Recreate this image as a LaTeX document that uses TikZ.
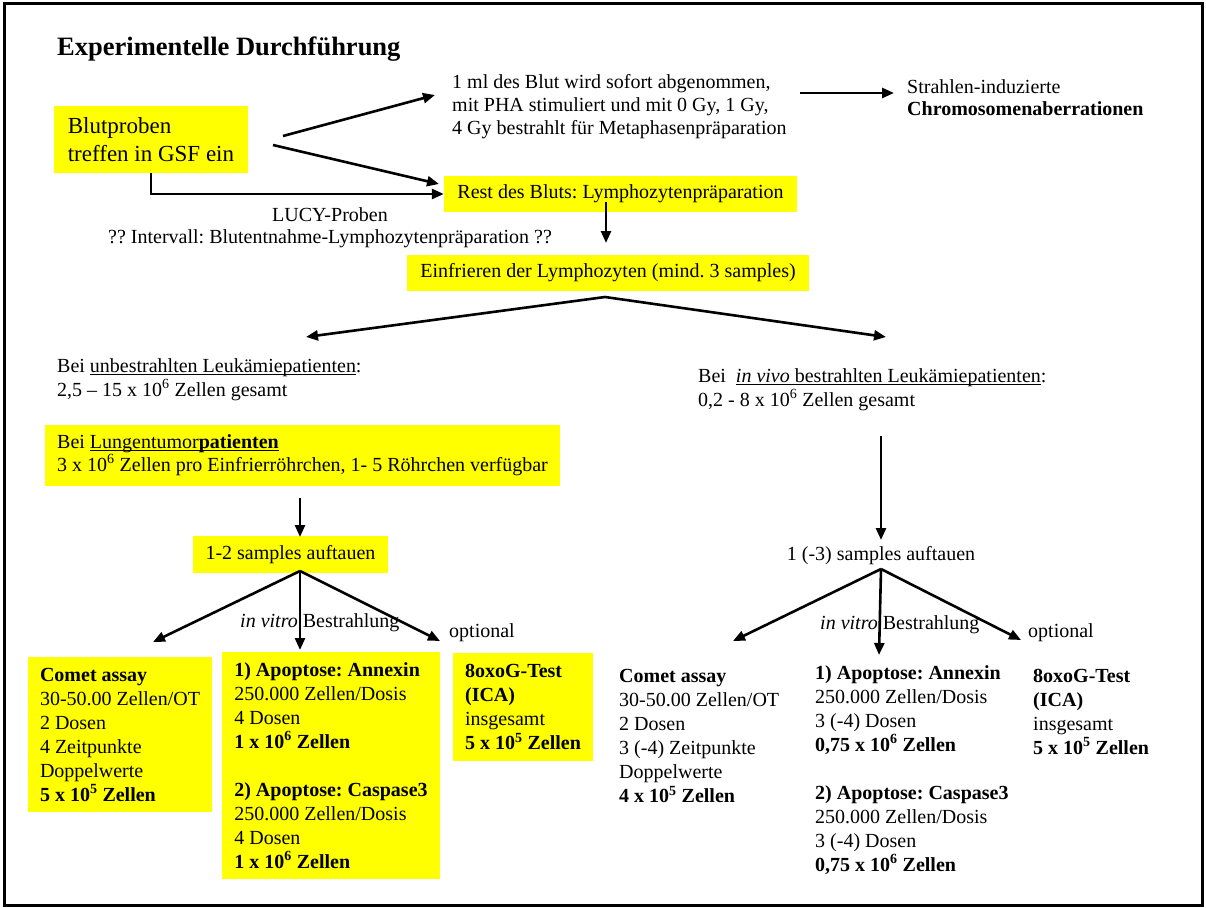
\documentclass[tikz,border=0pt]{standalone}
\usepackage{fontspec}
\setmainfont{Liberation Serif}
\usetikzlibrary{arrows.meta}
\definecolor{hiyellow}{RGB}{255,255,0}
\newcommand\ulbase[1]{\underline{\smash{#1}}}
\frenchspacing

\begin{document}
\begin{tikzpicture}[
                    x = 1pt, y = -1pt,
                    > = {Triangle[length=12pt,width=10pt]},
          arr/.style = {->, line width=2.6pt, line join=miter},
         ybox/.style = {fill=hiyellow, inner sep=0pt, align=left},
          txt/.style = {anchor=west, align=left, inner sep=0pt},
    every node/.style = {font=\fontsize{20}{24}\selectfont},
                    ]
\useasboundingbox (0,0) rectangle (1206,907);
\draw[line width=3pt] (4,4) rectangle (1202,905);

% top part
\node[txt, font=\fontsize{26.5}{30}\selectfont\bfseries] (title) at (57,49) {Experimentelle Durchführung};
\node[ybox, minimum width=194pt, minimum height=67pt, font=\fontsize{23}{28}\selectfont] (blut) at (151,139.5)
    {Blutproben\\treffen in GSF ein};
\node[txt, font=\fontsize{20}{23}\selectfont] (mlblut) at (452,107)
    {1 ml des Blut wird sofort abgenommen,\\mit PHA stimuliert und mit 0 Gy, 1 Gy,\\4 Gy bestrahlt für Metaphasenpräparation};
\node[txt, font=\fontsize{20}{22}\selectfont] (chrom) at (907,98)
    {Strahlen-induzierte\\\textbf{Chromosomenaberrationen}};
\node[ybox, minimum width=353pt, minimum height=36pt] (rest) at (620.5,194) {Rest des Bluts: Lymphozytenpräparation};
\node (lucy) at (330,215) {LUCY-Proben};
\node[txt] (intervall) at (108,239) {?? Intervall: Blutentnahme-Lymphozytenpräparation ??};
\node[ybox, minimum width=402pt, minimum height=36pt] (einf) at (608,273) {Einfrieren der Lymphozyten (mind. 3 samples)};

% left branch
\node[txt] (unbestr) at (57,380)
    {Bei \ulbase{unbestrahlten Leukämiepatienten}:\\2,5 -- 15 x 10\textsuperscript{6} Zellen gesamt};
\node[ybox, minimum width=515pt, minimum height=61pt, font=\fontsize{20}{22.5}\selectfont] (lung) at (302.5,455.5)
    {Bei \ulbase{Lungentumor\textbf{patienten}}\\3 x 10\textsuperscript{6} Zellen pro Einfrierröhrchen, 1- 5 Röhrchen verfügbar};
\node[ybox, minimum width=195pt, minimum height=37pt] (thawL) at (290.5,554.5) {1-2 samples auftauen};
\node[txt] (vitroL) at (240,623) {\textit{in vitro} Bestrahlung};
\node[txt] (optL) at (449,633) {optional};
\node[ybox, minimum width=184pt, minimum height=155pt] (cometL) at (120,734.5)
    {\textbf{Comet assay}\\30-50.00 Zellen/OT\\2 Dosen\\4 Zeitpunkte\\Doppelwerte\\\textbf{5 x 10\textsuperscript{5} Zellen}};
\node[ybox, minimum width=218pt, minimum height=227pt] (apoL) at (331,765.5)
    {\textbf{1) Apoptose: Annexin}\\250.000 Zellen/Dosis\\4 Dosen\\\textbf{1 x 10\textsuperscript{6} Zellen}\\[24pt]
     \textbf{2) Apoptose: Caspase3}\\250.000 Zellen/Dosis\\4 Dosen\\\textbf{1 x 10\textsuperscript{6} Zellen}};
\node[ybox, minimum width=140pt, minimum height=108pt] (oxoL) at (523,707)
    {\textbf{8oxoG-Test}\\\textbf{(ICA)}\\insgesamt\\\textbf{5 x 10\textsuperscript{5} Zellen}};

% right branch
\node[txt] (invivo) at (698,390)
    {Bei \ \ulbase{\textit{in vivo} bestrahlten Leukämiepatienten}:\\0,2 - 8 x 10\textsuperscript{6} Zellen gesamt};
\node (thawR) at (881,556) {1 (-3) samples auftauen};
\node[txt] (vitroR) at (820,625) {\textit{in vitro} Bestrahlung};
\node[txt] (optR) at (1028,633) {optional};
\node[txt] (cometR) at (619,736)
    {\textbf{Comet assay}\\30-50.00 Zellen/OT\\2 Dosen\\3 (-4) Zeitpunkte\\Doppelwerte\\\textbf{4 x 10\textsuperscript{5} Zellen}};
\node[txt] (apoR) at (815,770)
    {\textbf{1) Apoptose: Annexin}\\250.000 Zellen/Dosis\\3 (-4) Dosen\\\textbf{0,75 x 10\textsuperscript{6} Zellen}\\[24pt]
     \textbf{2) Apoptose: Caspase3}\\250.000 Zellen/Dosis\\3 (-4) Dosen\\\textbf{0,75 x 10\textsuperscript{6} Zellen}};
\node[txt] (oxoR) at (1033,711.5)
    {\textbf{8oxoG-Test}\\\textbf{(ICA)}\\insgesamt\\\textbf{5 x 10\textsuperscript{5} Zellen}};

% arrow ends
\coordinate (blutUp) at (283,136);   \coordinate (mlTip) at (435,95);
\coordinate (blutDn) at (273,145);   \coordinate (restTip) at (439,184);
\coordinate (mlOut) at (800,93);     \coordinate (chromTip) at (894,93);
\coordinate (restOut) at (606,202);  \coordinate (einfTip) at (606,243);
\coordinate (einfOut) at (605,297);
\coordinate (unbTip) at (306,337);   \coordinate (vivoTip) at (886,337);
\coordinate (lungOut) at (300,498);  \coordinate (thawLTip) at (300,537);
\coordinate (thawLOut) at (300,571);
\coordinate (vivoOut) at (881,436);  \coordinate (thawRTip) at (881,540);
\coordinate (thawROut) at (881,569);

\draw[arr] (blutUp) -- (mlTip);
\draw[arr] (blutDn) -- (restTip);
\draw[arr] (blut.south) |- (rest.west);
\draw[arr] (mlOut) -- (chromTip);
\draw[arr] (restOut) -- (einfTip);
\draw[arr, <->] (unbTip) -- (einfOut) -- (vivoTip);
\draw[arr] (lungOut) -- (thawLTip);
\draw[arr] (vivoOut) -- (thawRTip);
\foreach \tip in {(153,642),(300,650),(440,641)}
    \draw[arr] (thawLOut) -- \tip;
\foreach \tip in {(733,641),(879,655),(1021,640)}
    \draw[arr] (thawROut) -- \tip;
\end{tikzpicture}
\end{document}
